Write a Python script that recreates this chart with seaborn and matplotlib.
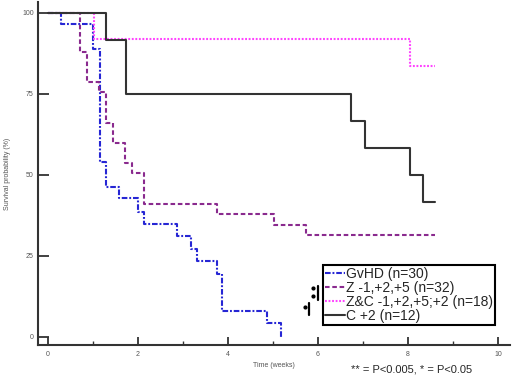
import matplotlib
matplotlib.use('Agg')
import pandas as pd
import matplotlib.pyplot as plt
import seaborn as sns

# Kaplan-Meier steps (time in weeks, survival in %)
gvhd_t = [0, 0.30, 1.00, 1.15, 1.29, 1.58, 2.01, 2.13, 2.88, 3.17, 3.32, 3.75, 3.86, 4.87, 5.17]
gvhd_s = [100, 96.7, 89, 54, 46.3, 43, 38.7, 34.9, 31.2, 27.2, 23.5, 19.4, 8.0, 4.3, 0]

z_t = [0, 0.71, 0.87, 1.13, 1.30, 1.44, 1.71, 1.86, 2.14, 3.75, 5.02, 5.73, 8.6]
z_s = [100, 88, 78.7, 75.7, 66, 59.8, 53.6, 50.5, 41, 37.9, 34.6, 31.5, 31.5]

zc_t = [0, 1.02, 8.04, 8.6]
zc_s = [100, 92, 83.5, 83.5]

c_t = [0, 1.29, 1.73, 6.73, 7.04, 8.04, 8.33, 8.6]
c_s = [100, 91.7, 75, 66.7, 58.3, 50, 41.7, 41.7]

labels = ['GvHD (n=30)', 'Z -1,+2,+5 (n=32)', 'Z&C -1,+2,+5;+2 (n=18)', 'C +2 (n=12)']
colors = ['#2626d4', '#8a2a8e', '#ff44ff', '#333333']
styles = [(0, (2.7, 0.9, 0.9, 0.9)), (0, (2.2, 1.3)), (0, (0.9, 0.8)), '-']

sns.set_style('white')
plt.rcParams['font.family'] = ['Liberation Sans', 'DejaVu Sans']

fig = plt.figure(figsize=(5.2, 3.81), dpi=100)
ax = fig.add_axes([0.073, 0.0945, 0.908, 0.9005])

series = [(gvhd_t, gvhd_s), (z_t, z_s), (zc_t, zc_s), (c_t, c_s)]
for (t, s), lab, col, ls in zip(series, labels, colors, styles):
    df = pd.DataFrame({'time': t, 'surv': s})
    sns.lineplot(data=df, x='time', y='surv', ax=ax, drawstyle='steps-post',
                 estimator=None, sort=False, color=col, linestyle=ls, lw=1.5,
                 label=lab)

ax.set_xlim(-0.22, 10.27)
ax.set_ylim(-2.5, 103.4)
ax.set_xticks(range(0, 11, 2))
ax.set_xticks(range(1, 11, 2), minor=True)
ax.set_yticks([0, 25, 50, 75, 100])
ax.tick_params(axis='x', which='major', direction='in', length=6, width=1.3,
               color='#333333', labelsize=5, labelcolor='#555555', pad=4,
               bottom=True)
ax.tick_params(axis='x', which='minor', direction='in', length=3, width=1,
               color='#333333', bottom=True)
ax.tick_params(axis='y', direction='in', length=8, width=1.3, color='#333333',
               labelsize=5, labelcolor='#555555', pad=3, left=True)
ax.set_xlabel('Time (weeks)', fontsize=5, color='#555555', labelpad=3)
ax.set_ylabel('Survival probability (%)', fontsize=5, color='#555555', labelpad=8)

for side in ['top', 'right']:
    ax.spines[side].set_visible(False)
for side in ['left', 'bottom']:
    ax.spines[side].set_color('#333333')
    ax.spines[side].set_linewidth(1.5)

leg = ax.legend(loc='upper left', bbox_to_anchor=(0.604, 0.233), frameon=True,
                fancybox=False, edgecolor='black', fontsize=10, handlelength=1.4,
                handletextpad=0.1, borderpad=0.15, labelspacing=0.0,
                borderaxespad=0)
leg.get_frame().set_linewidth(1.5)
leg.get_frame().set_alpha(1)

# significance brackets next to the legend
ax.plot([0.593, 0.593], [0.172, 0.130], transform=ax.transAxes, color='black',
        lw=1.6, clip_on=False)
ax.plot([0.582, 0.582], [0.165, 0.142], 'o', transform=ax.transAxes,
        color='black', ms=2, clip_on=False)
ax.plot([0.574, 0.574], [0.122, 0.087], transform=ax.transAxes, color='black',
        lw=1.6, clip_on=False)
ax.plot([0.565], [0.110], 'o', transform=ax.transAxes, color='black', ms=2,
        clip_on=False)

fig.text(0.675, 0.031, '** = P<0.005, * = P<0.05', fontsize=8, va='center')

fig.savefig('out.png', dpi=100)
